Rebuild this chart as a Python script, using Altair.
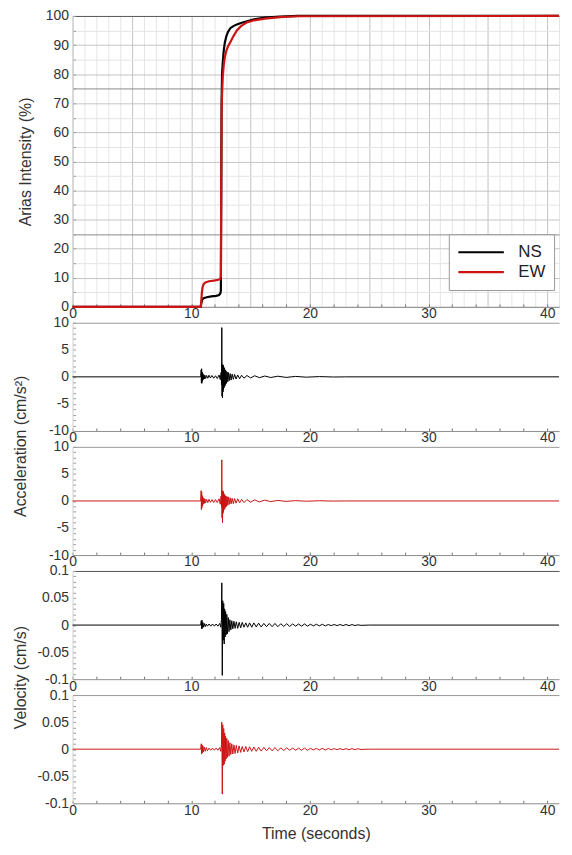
import altair as alt
import pandas as pd

# ---------------- data ----------------
COMPONENTS = ["NS", "EW"]
COLORS = ["#000000", "#cc1414"]

ARIAS_NS_T = [0, 10.80, 10.85, 10.92, 11.05, 11.30, 11.70, 12.10, 12.35, 12.45,
              12.50, 12.53, 12.56, 12.60, 12.66, 12.74, 12.84, 12.96, 13.10, 13.30,
              13.55, 13.85, 14.20, 14.70, 15.30, 16.20, 17.50, 19.00, 41.0]
ARIAS_NS_V = [0, 0, 1.2, 2.4, 3.0, 3.3, 3.6, 3.8, 4.1, 4.6,
              5.5, 35, 70, 80, 84, 88, 91, 93, 94.5, 95.8,
              96.5, 97.1, 97.6, 98.2, 98.8, 99.4, 99.8, 100, 100]

ARIAS_EW_T = [0, 10.80, 10.85, 10.90, 10.96, 11.05, 11.20, 11.50, 11.90, 12.30,
              12.45, 12.50, 12.53, 12.56, 12.60, 12.66, 12.74, 12.84, 12.96, 13.10,
              13.30, 13.55, 13.85, 14.20, 14.70, 15.30, 16.20, 17.50, 19.00, 41.0]
ARIAS_EW_V = [0, 0, 2.0, 5.0, 6.8, 7.8, 8.4, 8.8, 9.0, 9.3,
              9.6, 10.5, 40, 66, 73, 79, 83, 86, 88, 89.5,
              91, 93, 95, 96.5, 97.8, 98.5, 99.1, 99.6, 99.9, 100]

ACC_T = [0, 10.80, 10.84, 10.86, 10.88, 10.90, 10.92, 10.95, 10.98, 11.02,
         11.06, 11.10, 11.15, 11.22, 11.30, 11.40, 11.50, 11.62, 11.75, 11.90,
         12.05, 12.20, 12.35, 12.45, 12.52, 12.56, 12.58, 12.60, 12.62, 12.64,
         12.66, 12.68, 12.70, 12.72, 12.75, 12.78, 12.81, 12.84, 12.87, 12.90,
         12.94, 12.98, 13.03, 13.08, 13.14, 13.20, 13.28, 13.36, 13.45, 13.55,
         13.66, 13.78, 13.92, 14.08, 14.25, 14.45, 14.70, 15.00, 15.35, 15.75,
         16.20, 16.70, 17.30, 18.00, 18.80, 19.70, 20.80, 22.00, 23.00, 41.0]
ACC_NS = [0, 0, 1.3, -1.1, 1.5, -1.2, 0.9, -0.8, 0.6, -0.5,
          0.4, -0.4, 0.3, -0.3, 0.25, -0.25, 0.3, -0.2, 0.25, -0.25,
          0.2, -0.3, 0.35, -0.5, 0.8, -1.5, 9.1, -3.6, 2.3, -3.9,
          2.0, -2.8, 2.2, -2.4, 1.8, -2.0, 1.6, -1.7, 1.3, -1.4,
          1.1, -1.2, 0.9, -0.9, 0.8, -0.7, 0.6, -0.6, 0.5, -0.45,
          0.45, -0.4, 0.35, -0.35, 0.3, -0.25, 0.25, -0.2, 0.2, -0.15,
          0.15, -0.12, 0.12, -0.1, 0.08, -0.06, 0.05, -0.03, 0, 0]
ACC_EW = [0, 0, 1.9, -1.6, 1.7, -1.3, 1.0, -0.9, 0.7, -0.6,
          0.5, -0.45, 0.4, -0.35, 0.3, -0.3, 0.3, -0.25, 0.25, -0.3,
          0.25, -0.3, 0.4, -0.6, 0.9, -1.2, 7.6, -3.1, 1.9, -4.0,
          1.6, -2.3, 1.8, -2.0, 1.4, -1.6, 1.2, -1.4, 1.0, -1.1,
          0.9, -1.0, 0.8, -0.8, 0.7, -0.65, 0.6, -0.55, 0.5, -0.5,
          0.45, -0.4, 0.4, -0.35, 0.3, -0.3, 0.25, -0.22, 0.2, -0.18,
          0.15, -0.12, 0.1, -0.08, 0.06, -0.05, 0.04, -0.02, 0, 0]

VEL_T = [0, 10.80, 10.85, 10.88, 10.91, 10.94, 10.98, 11.03, 11.10, 11.18,
         11.27, 11.37, 11.50, 11.65, 11.80, 11.95, 12.10, 12.25, 12.40, 12.50,
         12.55, 12.58, 12.62, 12.66, 12.70, 12.74, 12.78, 12.82, 12.86, 12.90,
         12.95, 13.00, 13.06, 13.12, 13.19, 13.26, 13.34, 13.42, 13.51, 13.60,
         13.70, 13.80, 13.92, 14.04, 14.17, 14.30, 14.45, 14.60, 14.76, 14.92,
         15.10, 15.28, 15.48, 15.68, 15.90, 16.12, 16.35, 16.58, 16.82, 17.06,
         17.30, 17.55, 17.80, 18.05, 18.30, 18.55, 18.80, 19.05, 19.30, 19.55,
         19.80, 20.05, 20.30, 20.55, 20.80, 21.05, 21.30, 21.55, 21.80, 22.05,
         22.30, 22.55, 22.80, 23.05, 23.30, 23.55, 23.80, 24.05, 24.30, 25.0,
         41.0]
VEL_NS = [0, 0, 0.008, -0.007, 0.009, -0.006, 0.005, -0.004, 0.003, -0.003,
          0.002, -0.002, 0.002, -0.002, 0.002, -0.002, 0.002, -0.002, 0.003, -0.004,
          0.010, 0.078, -0.093, 0.045, -0.028, 0.040, -0.035, 0.030, -0.022, 0.025,
          -0.018, 0.020, -0.016, 0.014, -0.012, 0.010, -0.009, 0.008, -0.007, 0.007,
          -0.006, 0.006, -0.006, 0.005, -0.005, 0.005, -0.004, 0.004, -0.004, 0.004,
          -0.004, 0.004, -0.0035, 0.0035, -0.0035, 0.003, -0.003, 0.003, -0.003, 0.003,
          -0.003, 0.0025, -0.0025, 0.0025, -0.0025, 0.002, -0.002, 0.002, -0.002, 0.002,
          -0.002, 0.0015, -0.0015, 0.0015, -0.0015, 0.0015, -0.0015, 0.001, -0.001, 0.001,
          -0.001, 0.001, -0.001, 0.001, -0.001, 0.0008, -0.0008, 0.0005, -0.0005, 0,
          0]
VEL_EW = [0, 0, 0.010, -0.009, 0.008, -0.007, 0.006, -0.005, 0.004, -0.004,
          0.003, -0.003, 0.002, -0.002, 0.002, -0.002, 0.002, -0.002, 0.003, -0.004,
          0.008, 0.050, -0.083, 0.045, -0.030, 0.038, -0.028, 0.030, -0.022, 0.024,
          -0.018, 0.020, -0.015, 0.016, -0.013, 0.012, -0.010, 0.010, -0.009, 0.008,
          -0.008, 0.007, -0.007, 0.006, -0.006, 0.005, -0.005, 0.005, -0.0045, 0.0045,
          -0.004, 0.004, -0.004, 0.0035, -0.0035, 0.0035, -0.003, 0.003, -0.003, 0.003,
          -0.003, 0.0025, -0.0025, 0.0025, -0.002, 0.002, -0.002, 0.002, -0.002, 0.002,
          -0.002, 0.0015, -0.0015, 0.0015, -0.0015, 0.0015, -0.0015, 0.0012, -0.001, 0.001,
          -0.001, 0.001, -0.001, 0.001, -0.001, 0.001, -0.0008, 0.0008, -0.0005, 0,
          0]

X_TICKS = list(range(0, 42))
ARIAS_TICKS = list(range(0, 101, 5))
ACC_TICKS = list(range(-10, 11))
VEL_TICKS = [round(i / 100, 2) for i in range(-10, 11)]

# ---------------- styling ----------------
FONT = "Liberation Sans"
W = 490
XDOM = [0, 41]
H1 = 293
H = 109
SP = 16
TXT = "#333333"


def x_enc(last=False, grid=False):
    kw = dict(
        values=X_TICKS,
        labelExpr="datum.value % 10 == 0 ? toString(datum.value) : ''",
        labelFlush=False,
        labelOverlap=False,
        tickSize=alt.ExprRef(expr="-3"),
        tickColor=alt.ExprRef(expr="datum.value % 2 == 0 ? '#777777' : 'transparent'"),
        labelPadding=3,
        domainColor="#8c8c8c",
        labelFontSize=14,
        labelFont=FONT,
        labelColor=TXT,
        grid=grid,
    )
    if grid:
        kw["gridColor"] = alt.ExprRef(
            expr="datum.value % 5 == 0 ? '#c2c2c2' : '#e6e6e6'")
        kw["gridWidth"] = 1
    if last:
        kw.update(title="Time (seconds)", titleFont=FONT, titleFontSize=16,
                  titleFontWeight="normal", titleColor=TXT, titlePadding=8)
    else:
        kw["title"] = None
    return alt.X("t:Q", scale=alt.Scale(domain=XDOM, nice=False, zero=False),
                 axis=alt.Axis(**kw))


def y_enc(dom, values, label_expr, title, title_x, title_y, grid_expr):
    ax = alt.Axis(
        values=values,
        labelExpr=label_expr,
        labelOverlap=False,
        tickSize=alt.ExprRef(expr="-3"),
        tickColor="#9a9a9a",
        labelPadding=7,
        domainColor="#d0d0d0",
        labelFontSize=14,
        labelFont=FONT,
        labelColor=TXT,
        grid=True,
        gridColor=alt.ExprRef(expr=grid_expr),
        title=title,
        titleFont=FONT,
        titleFontSize=16,
        titleFontWeight="normal",
        titleColor=TXT,
        titleX=title_x,
        titleY=title_y,
        titleAlign="center",
        titleBaseline="middle",
        titleAngle=270,
    )
    return alt.Y("v:Q", scale=alt.Scale(domain=dom, nice=False, zero=False), axis=ax)


# ---------------- panel 1: Arias intensity ----------------
arias = pd.concat([
    pd.DataFrame({"t": ARIAS_NS_T, "v": ARIAS_NS_V, "comp": "NS"}),
    pd.DataFrame({"t": ARIAS_EW_T, "v": ARIAS_EW_V, "comp": "EW"}),
])

p1 = alt.Chart(arias).mark_line(strokeWidth=2.2).encode(
    x=x_enc(grid=True),
    y=y_enc([0, 100], ARIAS_TICKS,
            "datum.value % 10 == 0 ? toString(datum.value) : ''",
            "Arias Intensity (%)", -47, H1 / 2,
            "datum.value == 100 ? '#555555' : ((datum.value == 25 || datum.value == 75) ? '#8a8a8a' : (datum.value % 10 == 0 ? '#c4c4c4' : '#e4e4e4'))"),
    color=alt.Color("comp:N",
                    scale=alt.Scale(domain=COMPONENTS, range=COLORS),
                    legend=alt.Legend(orient="none", legendX=379, legendY=220,
                                      title=None, symbolType="stroke",
                                      symbolStrokeWidth=2.2, symbolSize=2100,
                                      clipHeight=20,
                                      labelFontSize=17, labelFont=FONT,
                                      labelColor="#222222", strokeColor="#999999",
                                      fillColor="white", padding=8,
                                      rowPadding=0, labelOffset=13)),
).properties(width=W, height=H1)

acc_ns = pd.DataFrame({"t": ACC_T, "v": ACC_NS})
acc_ew = pd.DataFrame({"t": ACC_T, "v": ACC_EW})
vel_ns = pd.DataFrame({"t": VEL_T, "v": VEL_NS})
vel_ew = pd.DataFrame({"t": VEL_T, "v": VEL_EW})

ACC_LBL = "datum.value % 5 == 0 ? toString(datum.value) : ''"
VEL_LBL = "abs(round(datum.value * 100)) % 5 == 0 ? toString(datum.value) : ''"

p2 = alt.Chart(acc_ns).mark_line(strokeWidth=1, color=COLORS[0]).encode(
    x=x_enc(),
    y=y_enc([-10, 10], ACC_TICKS, ACC_LBL, "Acceleration (cm/s²)", -52, 124,
            "datum.value == 10 ? '#999999' : 'transparent'"),
).properties(width=W, height=H)

p3 = alt.Chart(acc_ew).mark_line(strokeWidth=1, color=COLORS[1]).encode(
    x=x_enc(),
    y=y_enc([-10, 10], ACC_TICKS, ACC_LBL, None, -52, H / 2,
            "datum.value == 10 ? '#999999' : 'transparent'"),
).properties(width=W, height=H)

p4 = alt.Chart(vel_ns).mark_line(strokeWidth=1, color=COLORS[0]).encode(
    x=x_enc(),
    y=y_enc([-0.1, 0.1], VEL_TICKS, VEL_LBL, "Velocity (cm/s)", -52, 107,
            "datum.value == 0.1 ? '#555555' : 'transparent'"),
).properties(width=W, height=H)

p5 = alt.Chart(vel_ew).mark_line(strokeWidth=1, color=COLORS[1]).encode(
    x=x_enc(last=True),
    y=y_enc([-0.1, 0.1], VEL_TICKS, VEL_LBL, None, -52, H / 2,
            "datum.value == 0.1 ? '#999999' : 'transparent'"),
).properties(width=W, height=H)

chart = alt.vconcat(p1, p2, p3, p4, p5, spacing=SP, bounds="flush").configure_view(
    stroke=None
).properties(padding={"left": 5, "top": -2, "right": 0, "bottom": 0})

chart.save("out.html", embed_options={"renderer": "svg", "actions": False})
